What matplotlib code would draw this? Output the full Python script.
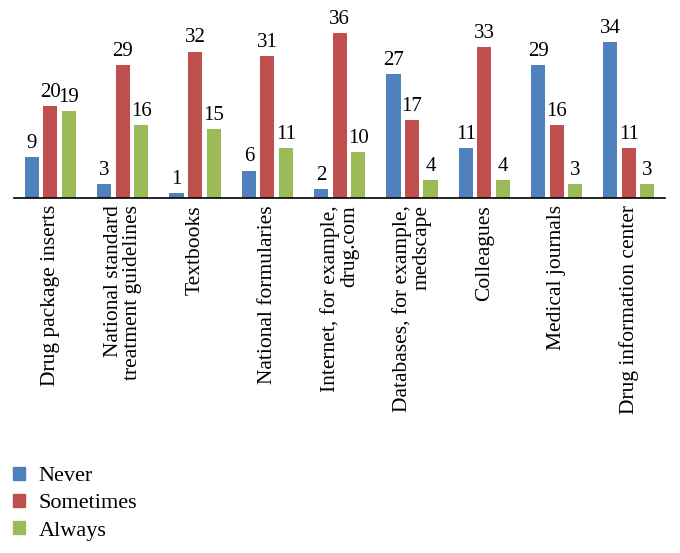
import numpy as np
import matplotlib
matplotlib.use("Agg")
import matplotlib.pyplot as plt
from matplotlib.patches import Patch

plt.rcParams['font.family'] = ['Liberation Serif', 'DejaVu Serif']

categories = ["Drug package inserts",
              "National standard\ntreatment guidelines",
              "Textbooks",
              "National formularies",
              "Internet, for example,\ndrug.com",
              "Databases, for example,\nmedscape",
              "Colleagues",
              "Medical journals",
              "Drug information center"]
series_names = ["Never", "Sometimes", "Always"]
never = [9, 3, 1, 6, 2, 27, 11, 29, 34]
sometimes = [20, 29, 32, 31, 36, 17, 33, 16, 11]
always = [19, 16, 15, 11, 10, 4, 4, 3, 3]
colors = ["#4F81BD", "#C0504D", "#9BBB59"]

fig = plt.figure(figsize=(6.8, 5.53), dpi=100)
ax = fig.add_axes([0.021, 0.642, 0.957, 0.331])

x = np.arange(len(categories))
width = 0.195
offsets = [-0.256, 0, 0.256]
for vals, off, c in zip([never, sometimes, always], offsets, colors):
    bars = ax.bar(x + off, vals, width, color=c)
    for b, v in zip(bars, vals):
        ax.text(b.get_x() + b.get_width() / 2, v + 0.9, str(v),
                ha='center', va='bottom', fontsize=15)

ax.set_xlim(-0.5, len(categories) - 0.5)
ax.set_ylim(0, 40)
ax.set_yticks([])
for s in ['top', 'right', 'left']:
    ax.spines[s].set_visible(False)
ax.spines['bottom'].set_linewidth(1.2)
ax.set_xticks(x)
ax.set_xticklabels(categories, rotation=90, fontsize=15.5, ha='center',
                   va='top', multialignment='right', linespacing=1.0)
ax.tick_params(axis='x', length=0, pad=5)

handles = [Patch(color=c) for c in colors]
fig.legend(handles, series_names, loc='upper left',
           bbox_to_anchor=(0.019, 0.156), frameon=False, fontsize=16,
           handlelength=0.55, handleheight=0.55, handletextpad=0.6,
           labelspacing=0.34, borderpad=0, borderaxespad=0)

fig.savefig("out.png", dpi=100)
